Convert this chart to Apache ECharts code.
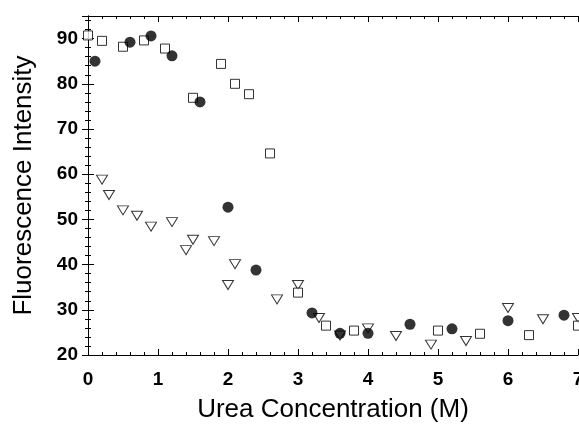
<!DOCTYPE html>
<html lang="en">
<head>
    <meta charset="UTF-8">
    <title>Fluorescence vs Urea</title>
    <style>
        html, body, #main {
            width: 100%;
            height: 100%;
            margin: 0;
            padding: 0;
            background: #fff;
        }
    </style>
    <script src="https://cdn.jsdelivr.net/npm/echarts@6/dist/echarts.min.js"></script>
</head>
<body>
    <div id="main"></div>
    <script>
        // data: [urea (M), intensity]
        const squares = [
            [0.0, 90.7], [0.2, 89.5], [0.5, 88.2], [0.8, 89.6], [1.1, 87.8],
            [1.5, 76.9], [1.9, 84.4], [2.1, 80.0], [2.3, 77.7], [2.6, 64.6],
            [3.0, 33.8], [3.4, 26.5], [3.8, 25.4], [5.0, 25.4], [5.6, 24.7],
            [6.3, 24.4], [7.0, 26.5]
        ];
        const circles = [
            [0.1, 85.0], [0.6, 89.2], [0.9, 90.6], [1.2, 86.2], [1.6, 76.0],
            [2.0, 52.7], [2.4, 38.8], [3.2, 29.3], [3.6, 24.8], [4.0, 24.8],
            [4.6, 26.8], [5.2, 25.8], [6.0, 27.6], [6.8, 28.8]
        ];
        const triangles = [
            [0.2, 58.8], [0.3, 55.4], [0.5, 52.0], [0.7, 50.8], [0.9, 48.4],
            [1.2, 49.4], [1.4, 43.2], [1.5, 45.5], [1.8, 45.2], [2.0, 35.5],
            [2.1, 40.1], [2.7, 32.3], [3.0, 35.5], [3.3, 28.2], [3.6, 24.3],
            [4.0, 25.9], [4.4, 24.2], [4.9, 22.3], [5.4, 23.1], [6.0, 30.4],
            [6.5, 27.9], [7.0, 28.2]
        ];

        const font = "'Liberation Sans', Arial, Helvetica, sans-serif";
        const black = '#000';

        const chart = echarts.init(document.getElementById('main'));

        const tickStyle = { show: true, inside: true, length: 6, lineStyle: { color: black, width: 1 } };
        const minorStyle = { show: true, splitNumber: 5, length: 3, lineStyle: { color: black, width: 1 } };

        chart.setOption({
            animation: false,
            grid: { left: 88, right: 1, top: 16, bottom: 73, containLabel: false, outerBoundsMode: 'none' },
            xAxis: [
                {
                    type: 'value', min: 0, max: 7, interval: 1,
                    name: 'Urea Concentration (M)',
                    nameLocation: 'middle', nameGap: 42,
                    nameTextStyle: { fontFamily: font, fontSize: 26, color: black },
                    axisLine: { show: true, lineStyle: { color: black, width: 1 } },
                    axisTick: tickStyle,
                    minorTick: minorStyle,
                    splitLine: { show: false },
                    axisLabel: { fontFamily: font, fontSize: 19, fontWeight: 'bold', color: black, margin: 15, alignMaxLabel: 'center' }
                },
                {
                    type: 'value', min: 0, max: 7, interval: 1, position: 'top',
                    axisLine: { show: true, lineStyle: { color: black, width: 1 } },
                    axisTick: tickStyle,
                    minorTick: minorStyle,
                    splitLine: { show: false },
                    axisLabel: { show: false }
                }
            ],
            yAxis: [
                {
                    type: 'value', min: 20, max: 95, interval: 10,
                    name: 'Fluorescence Intensity',
                    nameLocation: 'middle', nameGap: 51,
                    nameTextStyle: { fontFamily: font, fontSize: 26, color: black },
                    axisLine: { show: true, lineStyle: { color: black, width: 1 } },
                    axisTick: tickStyle,
                    minorTick: minorStyle,
                    splitLine: { show: false },
                    axisLabel: { fontFamily: font, fontSize: 19, fontWeight: 'bold', color: black, margin: 10, showMaxLabel: false }
                },
                {
                    type: 'value', min: 20, max: 95, interval: 10, position: 'right',
                    axisLine: { show: true, lineStyle: { color: black, width: 1 } },
                    axisTick: tickStyle,
                    minorTick: minorStyle,
                    splitLine: { show: false },
                    axisLabel: { show: false }
                }
            ],
            series: [
                {
                    type: 'scatter', data: triangles,
                    symbol: 'triangle', symbolRotate: 180, symbolSize: [11, 9],
                    itemStyle: { color: '#fff', borderColor: black, borderWidth: 1 }
                },
                {
                    type: 'scatter', data: squares,
                    symbol: 'rect', symbolSize: 9,
                    itemStyle: { color: '#fff', borderColor: black, borderWidth: 1 }
                },
                {
                    type: 'scatter', data: circles,
                    symbol: 'circle', symbolSize: 11,
                    itemStyle: { color: black }
                }
            ]
        });
    </script>
</body>
</html>
